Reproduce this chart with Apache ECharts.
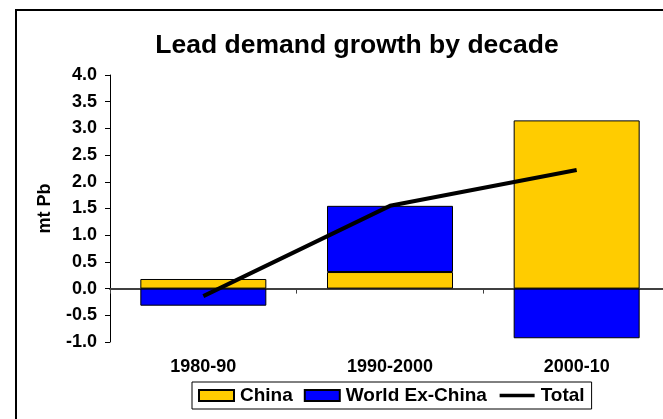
<!DOCTYPE html>
<html>
<head>
<meta charset="utf-8">
<script src="https://cdn.jsdelivr.net/npm/echarts@6/dist/echarts.min.js"></script>
<style>
  html, body { margin: 0; padding: 0; background: #fff; }
  #chart { width: 663px; height: 419px; }
</style>
</head>
<body>
<div id="chart"></div>
<script>
// Lead demand growth (million tonnes Pb) per decade
const decades = ['1980-90', '1990-2000', '2000-10'];
const china = [0.18, 0.31, 3.15];
const worldExChina = [-0.32, 1.24, -0.93];
const total = [-0.14, 1.55, 2.22];
const yTicks = { min: -1, max: 4, step: 0.5 };

const FONT = '"Liberation Sans", Arial, sans-serif';

const chart = echarts.init(document.getElementById('chart'), null, { renderer: 'canvas' });

chart.setOption({
  animation: false,
  backgroundColor: '#fff',
  title: {
    text: 'Lead demand growth by decade',
    left: 352,
    textAlign: 'center',
    top: 27,
    textStyle: { fontFamily: FONT, fontWeight: 'bold', fontSize: 26.5, color: '#000' }
  },
  // outer frame of the chart area
  graphic: [{
    type: 'polyline',
    shape: { points: [[16, 430], [16, 10], [680, 10]] },
    style: { stroke: '#000', lineWidth: 2, fill: null },
    silent: true
  }],
  legend: {
    left: 192,
    top: 382,
    itemWidth: 35,
    itemHeight: 11,
    itemGap: 11,
    padding: [4, 7, 4, 6],
    borderColor: '#000',
    borderWidth: 1,
    textStyle: { fontFamily: FONT, fontWeight: 'bold', fontSize: 19, color: '#000', padding: [0, 0, 0, 1] },
    data: [
      { name: 'China', icon: 'rect' },
      { name: 'World Ex-China', icon: 'rect' },
      {
        name: 'Total',
        itemStyle: { color: 'transparent', borderWidth: 0, opacity: 0 },
        lineStyle: { width: 3.5, color: '#000' }
      }
    ]
  },
  grid: { left: 110, top: 75, width: 560, height: 267, outerBoundsMode: 'none', containLabel: false },
  xAxis: [
    {
      // zero line with category ticks
      type: 'category',
      data: decades,
      axisLine: { onZero: true, lineStyle: { color: '#404040', width: 2 } },
      axisTick: { show: true, length: 5, lineStyle: { color: '#404040', width: 1 } },
      axisLabel: { show: false }
    },
    {
      // category labels along the bottom of the plot
      type: 'category',
      data: decades,
      position: 'bottom',
      axisLine: { show: false, onZero: false },
      axisTick: { show: false },
      axisLabel: {
        interval: 0,
        fontFamily: FONT, fontWeight: 'bold', fontSize: 18, color: '#000',
        margin: 16
      }
    }
  ],
  yAxis: {
    type: 'value',
    min: yTicks.min,
    max: yTicks.max,
    interval: yTicks.step,
    name: 'mt Pb',
    nameLocation: 'middle',
    nameRotate: 90,
    nameGap: 56,
    nameTextStyle: { fontFamily: FONT, fontWeight: 'bold', fontSize: 18, color: '#000' },
    axisLine: { show: true, lineStyle: { color: '#000', width: 1 } },
    axisTick: { show: true, length: 5, lineStyle: { color: '#000' } },
    splitLine: { show: false },
    axisLabel: {
      fontFamily: FONT, fontWeight: 'bold', fontSize: 18, color: '#000',
      margin: 13,
      formatter: v => v.toFixed(1)
    }
  },
  series: [
    {
      name: 'China',
      type: 'bar',
      stack: 'demand',
      data: china,
      barWidth: 126,
      itemStyle: { color: '#FFCC00', borderColor: '#000', borderWidth: 1 }
    },
    {
      name: 'World Ex-China',
      type: 'bar',
      stack: 'demand',
      data: worldExChina,
      barWidth: 126,
      itemStyle: { color: '#0000FF', borderColor: '#000', borderWidth: 1 }
    },
    {
      name: 'Total',
      type: 'line',
      data: total,
      symbol: 'none',
      lineStyle: { color: '#000', width: 4 },
      itemStyle: { color: '#000' },
      z: 5
    }
  ]
});
</script>
</body>
</html>
